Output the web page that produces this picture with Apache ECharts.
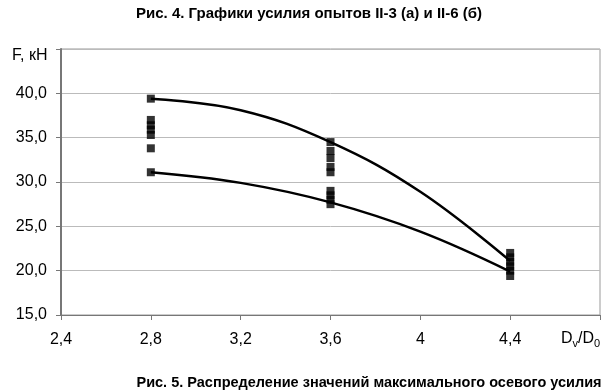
<!DOCTYPE html>
<html>
<head>
<meta charset="utf-8">
<script src="https://cdn.jsdelivr.net/npm/echarts@6/dist/echarts.min.js"></script>
<style>
  html, body { margin: 0; padding: 0; background: #fff; }
  #chart { width: 611px; height: 391px; }
</style>
</head>
<body>
<div id="chart"></div>
<script>
// точки опытов (Dv/D0, F кН)
const expX = [2.8, 2.8, 2.8, 2.8, 2.8, 2.8, 2.8,
              3.6, 3.6, 3.6, 3.6, 3.6, 3.6, 3.6, 3.6, 3.6,
              4.4, 4.4, 4.4, 4.4, 4.4, 4.4];
const expF = [39.4, 37.0, 36.4, 35.9, 35.3, 33.8, 31.1,
              34.5, 33.5, 32.7, 31.7, 31.1, 29.0, 28.5, 28.0, 27.5,
              22.0, 21.5, 21.0, 20.5, 20.0, 19.4];
// огибающие кривые
const curveX = [2.8, 3.2, 3.6, 4.0, 4.4];
const upperF = [39.4, 38.1, 34.5, 28.9, 21.1];
const lowerF = [31.1, 29.9, 27.7, 24.4, 19.9];
const xTicks = ['2,4', '2,8', '3,2', '3,6', '4', '4,4', ''];

const chart = echarts.init(document.getElementById('chart'));
const font = 'Liberation Sans, Arial, sans-serif';

chart.setOption({
  animation: false,
  textStyle: { fontFamily: font },
  title: [
    {
      text: 'Рис. 4. Графики усилия опытов II-3 (а) и II-6 (б)',
      left: 304, top: 1, textAlign: 'center',
      textStyle: { fontSize: 15, fontWeight: 'bold', color: '#000', fontFamily: font }
    },
    {
      text: 'Рис. 5. Распределение значений максимального осевого усилия',
      left: 364, top: 370, textAlign: 'center',
      textStyle: { fontSize: 14.5, fontWeight: 'bold', color: '#000', fontFamily: font }
    }
  ],
  grid: {
    left: 61, right: 11, top: 49, bottom: 76,
    show: true, borderColor: '#999', borderWidth: 1
  },
  xAxis: {
    type: 'value', min: 2.4, max: 4.8, interval: 0.4,
    axisLine: { lineStyle: { color: '#777', width: 1 } },
    axisTick: { show: true, length: 5, lineStyle: { color: '#777' } },
    splitLine: { show: false },
    axisLabel: {
      color: '#000', fontSize: 16, margin: 17,
      formatter: (v) => xTicks[Math.round((v - 2.4) / 0.4)]
    }
  },
  yAxis: {
    type: 'value', min: 15, max: 45, interval: 5,
    axisLine: { show: true, lineStyle: { color: '#777', width: 2 } },
    axisTick: { show: true, length: 5, lineStyle: { color: '#777' } },
    splitLine: { show: true, lineStyle: { color: '#bbb', width: 1 } },
    axisLabel: {
      color: '#000', fontSize: 16, margin: 14,
      formatter: (v) => v === 45 ? '' : v.toFixed(1).replace('.', ',')
    }
  },
  graphic: [
    { type: 'text', left: 12, top: 48,
      style: { text: 'F, кН', fontSize: 16, fill: '#000', fontFamily: font } },
    { type: 'text', left: 561, top: 331,
      style: {
        text: '{n|D}{s|v}{n|/D}{s|0}',
        rich: {
          n: { fontSize: 16, fill: '#000', fontFamily: font },
          s: { fontSize: 11, fill: '#000', fontFamily: font, padding: [9, 0, 0, 0] }
        }
      } }
  ],
  series: [
    {
      type: 'line', smooth: 0.4, symbol: 'none',
      data: curveX.map((x, i) => [x, upperF[i]]),
      lineStyle: { color: '#000', width: 2.5 }, z: 2
    },
    {
      type: 'line', smooth: 0.4, symbol: 'none',
      data: curveX.map((x, i) => [x, lowerF[i]]),
      lineStyle: { color: '#000', width: 2.5 }, z: 2
    },
    {
      type: 'scatter', symbol: 'rect', symbolSize: 8,
      data: expX.map((x, i) => [x, expF[i]]),
      itemStyle: { color: '#000' }, z: 3
    }
  ]
});
</script>
</body>
</html>
